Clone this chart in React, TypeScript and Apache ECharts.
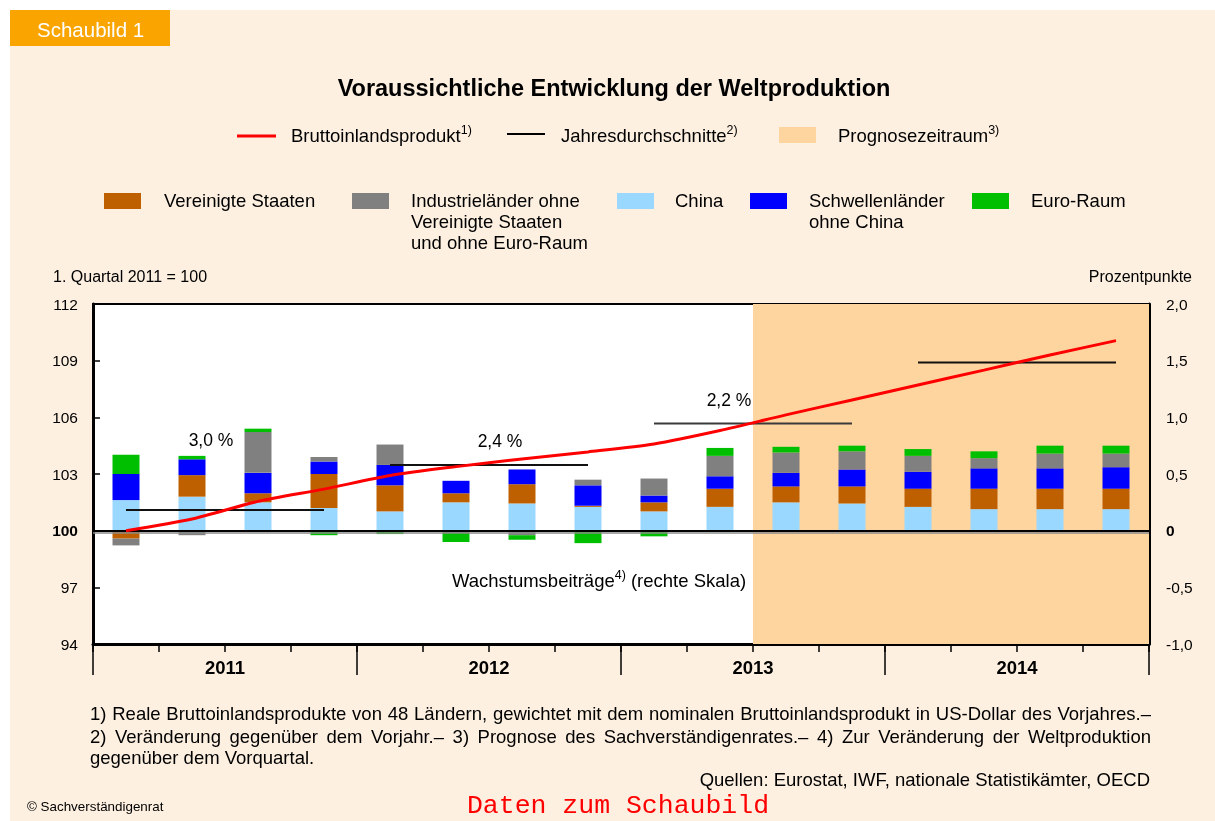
import React, { useEffect, useRef } from 'react';
import * as echarts from 'echarts';

const quarters = [
  '2011 Q1', '2011 Q2', '2011 Q3', '2011 Q4',
  '2012 Q1', '2012 Q2', '2012 Q3', '2012 Q4',
  '2013 Q1', '2013 Q2', '2013 Q3', '2013 Q4',
  '2014 Q1', '2014 Q2', '2014 Q3', '2014 Q4',
];
const years = ['2011', '2012', '2013', '2014'];
const forecastStart = 10; // first forecast quarter (2013 Q3)

// Bruttoinlandsprodukt, 1. Quartal 2011 = 100 (left axis)
const gdpIndex = [100.0, 100.62, 101.55, 102.2, 102.92, 103.39, 103.8, 104.17, 104.59, 105.3, 106.13, 106.92, 107.71, 108.5, 109.3, 110.06];
// Jahresdurchschnitte (left axis level) and their labels
const annualAvg = [101.1, 103.48, 105.67, 108.9];
const annualLabels = ['3,0 %', '2,4 %', '2,2 %', '3,0 %'];

// Wachstumsbeiträge in Prozentpunkten (right axis)
const china = [0.27, 0.30, 0.25, 0.20, 0.17, 0.25, 0.24, 0.21, 0.17, 0.21, 0.25, 0.24, 0.21, 0.19, 0.19, 0.19];
const usa = [-0.07, 0.19, 0.08, 0.30, 0.23, 0.08, 0.17, 0.01, 0.08, 0.16, 0.14, 0.15, 0.16, 0.18, 0.18, 0.18];
const emerging = [0.23, 0.14, 0.18, 0.11, 0.18, 0.11, 0.13, 0.18, 0.06, 0.11, 0.12, 0.15, 0.15, 0.18, 0.18, 0.19];
const industrial = [-0.06, -0.04, 0.36, 0.04, 0.18, -0.02, -0.04, 0.05, 0.15, 0.18, 0.18, 0.16, 0.14, 0.09, 0.13, 0.12];
const euro = [0.17, 0.03, 0.03, -0.04, -0.03, -0.08, -0.04, -0.11, -0.05, 0.07, 0.05, 0.05, 0.06, 0.06, 0.07, 0.07];

const leftTicks = { min: 94, max: 112, interval: 3 };
const rightTicks = { min: -1, max: 2, interval: 0.5 };

const footnotes = [
  '1) Reale Bruttoinlandsprodukte von 48 Ländern, gewichtet mit dem nominalen Bruttoinlandsprodukt in US-Dollar des Vorjahres.–',
  '2) Veränderung gegenüber dem Vorjahr.– 3) Prognose des Sachverständigenrates.– 4) Zur Veränderung der Weltproduktion',
  'gegenüber dem Vorquartal.',
];

const FONT = '"Liberation Sans", Arial, Helvetica, sans-serif';
const C_US = '#BF6000';
const C_IND = '#808080';
const C_CHINA = '#9AD8FF';
const C_EM = '#0000FF';
const C_EURO = '#00BF00';
const C_FORECAST = '#FED49F';
const C_BG = '#FDF0E1';
const FS = 18.5;

const supRich = {
  a: { fontSize: FS, fontFamily: FONT, color: '#000', lineHeight: 24 },
  s: { fontSize: 12.5, fontFamily: FONT, color: '#000', lineHeight: 12, verticalAlign: 'top' },
};

function txt(x: number, y: number, text: string, extra: any = {}) {
  return {
    type: 'text', x, y, silent: true,
    style: { text, fontFamily: FONT, fontSize: FS, fill: '#000', textVerticalAlign: 'middle', ...extra },
  };
}

function justified(text: string, x0: number, x1: number, y: number, fontSize: number) {
  const ctx = document.createElement('canvas').getContext('2d');
  const words = text.split(' ');
  if (!ctx) return [txt(x0, y, text, { fontSize })];
  ctx.font = `${fontSize}px "Liberation Sans", Arial, sans-serif`;
  const widths = words.map((w) => ctx.measureText(w).width);
  const total = widths.reduce((a, b) => a + b, 0);
  const gap = (x1 - x0 - total) / (words.length - 1);
  let x = x0;
  return words.map((w, i) => {
    const el = txt(x, y, w, { fontSize });
    x += widths[i] + gap;
    return el;
  });
}

export default function App() {
  const ref = useRef<HTMLDivElement>(null);
  useEffect(() => {
    const chart = echarts.init(ref.current!, null, { renderer: 'svg' });

    const barDefs = [
      { name: 'China', data: china, color: C_CHINA },
      { name: 'Vereinigte Staaten', data: usa, color: C_US },
      { name: 'Schwellenländer ohne China', data: emerging, color: C_EM },
      { name: 'Industrieländer ohne Vereinigte Staaten und ohne Euro-Raum', data: industrial, color: C_IND },
      { name: 'Euro-Raum', data: euro, color: C_EURO },
    ];

    const barSeries = barDefs.map((b, i) => ({
      name: b.name,
      type: 'bar',
      stack: 'beitraege',
      xAxisIndex: 0,
      yAxisIndex: 1,
      barWidth: 27,
      data: b.data,
      itemStyle: { color: b.color },
      z: 3,
      ...(i === barDefs.length - 1
        ? {
            markLine: {
              silent: true,
              symbol: 'none',
              label: { show: false },
              data: [
                { yAxis: -0.016, lineStyle: { color: '#8a8a8a', width: 1.5, type: 'solid' } },
                { yAxis: 0, lineStyle: { color: '#000', width: 2, type: 'solid' } },
              ],
            },
          }
        : {}),
    }));

    const avgSeries = annualAvg.map((v, y) => ({
      name: 'Jahresdurchschnitte',
      type: 'line',
      xAxisIndex: 0,
      yAxisIndex: 0,
      symbol: 'none',
      data: quarters.map((_, i) => (Math.floor(i / 4) === y ? v : null)),
      lineStyle: { color: y === 2 ? '#3a3a3a' : '#111', width: 2 },
      z: 8,
    }));

    const graphic: any[] = [
      { type: 'rect', shape: { x: 10, y: 10, width: 1205, height: 811 }, style: { fill: C_BG }, z: -100, silent: true },
      { type: 'rect', shape: { x: 10, y: 10, width: 160, height: 36 }, style: { fill: '#FAA400' }, z: -99, silent: true },
      txt(37, 29, 'Schaubild 1', { fill: '#fff', fontSize: 20.5 }),
      txt(614, 88, 'Voraussichtliche Entwicklung der Weltproduktion', { fontSize: 23.5, fontWeight: 'bold', textAlign: 'center' }),
      // legend row 1
      { type: 'line', shape: { x1: 237, y1: 136, x2: 276, y2: 136 }, style: { stroke: '#FF0000', lineWidth: 3 }, silent: true },
      txt(291, 135, '{a|Bruttoinlandsprodukt}{s|1)}', { rich: supRich }),
      { type: 'line', shape: { x1: 507, y1: 134, x2: 545, y2: 134 }, style: { stroke: '#000', lineWidth: 2 }, silent: true },
      txt(561, 135, '{a|Jahresdurchschnitte}{s|2)}', { rich: supRich }),
      { type: 'rect', shape: { x: 779, y: 127, width: 37, height: 16 }, style: { fill: C_FORECAST }, silent: true },
      txt(838, 135, '{a|Prognosezeitraum}{s|3)}', { rich: supRich }),
      // legend row 2
      { type: 'rect', shape: { x: 104, y: 193, width: 37, height: 16 }, style: { fill: C_US }, silent: true },
      txt(164, 190, 'Vereinigte Staaten', { textVerticalAlign: 'top', lineHeight: 21 }),
      { type: 'rect', shape: { x: 352, y: 193, width: 37, height: 16 }, style: { fill: C_IND }, silent: true },
      txt(411, 190, 'Industrieländer ohne\nVereinigte Staaten\nund ohne Euro-Raum', { textVerticalAlign: 'top', lineHeight: 21 }),
      { type: 'rect', shape: { x: 617, y: 193, width: 37, height: 16 }, style: { fill: C_CHINA }, silent: true },
      txt(675, 190, 'China', { textVerticalAlign: 'top', lineHeight: 21 }),
      { type: 'rect', shape: { x: 750, y: 193, width: 37, height: 16 }, style: { fill: C_EM }, silent: true },
      txt(809, 190, 'Schwellenländer\nohne China', { textVerticalAlign: 'top', lineHeight: 21 }),
      { type: 'rect', shape: { x: 972, y: 193, width: 37, height: 16 }, style: { fill: C_EURO }, silent: true },
      txt(1031, 190, 'Euro-Raum', { textVerticalAlign: 'top', lineHeight: 21 }),
      // axis captions
      txt(53, 276, '1. Quartal 2011 = 100', { fontSize: 16 }),
      txt(1192, 276, 'Prozentpunkte', { fontSize: 16, textAlign: 'right' }),
      // annotations
      txt(211, 440, annualLabels[0], { fontSize: 17.5, textAlign: 'center' }),
      txt(500, 441, annualLabels[1], { fontSize: 17.5, textAlign: 'center' }),
      txt(729, 400, annualLabels[2], { fontSize: 17.5, textAlign: 'center' }),
      txt(1015, 341, annualLabels[3], { fontSize: 17.5, textAlign: 'center' }),
      txt(599, 580, '{a|Wachstumsbeiträge}{s|4)}{a| (rechte Skala)}', {
        textAlign: 'center',
        rich: { a: { ...supRich.a, fontSize: 18.5 }, s: supRich.s },
      }),
      // footnotes
      ...justified(footnotes[0], 90, 1151, 713, FS),
      ...justified(footnotes[1], 90, 1151, 736, FS),
      txt(90, 757, footnotes[2], { fontSize: FS }),
      txt(1150, 779, 'Quellen: Eurostat, IWF, nationale Statistikämter, OECD', { fontSize: FS, textAlign: 'right' }),
      txt(27, 806, '© Sachverständigenrat', { fontSize: 13.4 }),
      txt(618, 806, 'Daten zum Schaubild', { fontSize: 26.5, fontFamily: '"Liberation Mono", "Courier New", monospace', fill: '#FF0000', textAlign: 'center' }),
    ];

    const option: any = {
      animation: false,
      textStyle: { fontFamily: FONT },
      graphic,
      grid: {
        left: 93, top: 304, right: 66, bottom: 177,
        show: true, backgroundColor: '#fff', borderColor: '#000', borderWidth: 2,
        containLabel: false,
      },
      xAxis: [
        {
          type: 'category', data: quarters, position: 'bottom', boundaryGap: true,
          axisLine: { show: true, onZero: false, lineStyle: { color: '#000', width: 3 } },
          axisTick: { show: true, length: 8, interval: 0, lineStyle: { color: '#000', width: 1.5 } },
          axisLabel: { show: false },
          splitLine: { show: false },
        },
        {
          type: 'category', data: years, position: 'bottom', boundaryGap: true,
          axisLine: { show: false, onZero: false },
          axisTick: { show: true, length: 31, interval: 0, lineStyle: { color: '#000', width: 1.5 } },
          axisLabel: { show: true, margin: 14, fontSize: 18.5, fontWeight: 'bold', color: '#000', fontFamily: FONT },
          splitLine: { show: false },
        },
        { type: 'value', min: 0, max: quarters.length, show: false, axisLine: { onZero: false } },
        {
          type: 'category', data: quarters, position: 'top',
          axisLine: { show: true, onZero: false, lineStyle: { color: '#000', width: 2 } },
          axisTick: { show: false }, axisLabel: { show: false }, splitLine: { show: false },
        },
      ],
      yAxis: [
        {
          type: 'value', position: 'left', ...leftTicks,
          axisLine: { show: true, onZero: false, lineStyle: { color: '#000', width: 3 } },
          axisTick: { show: true, inside: true, length: 7, lineStyle: { color: '#000', width: 1.5 } },
          splitLine: { show: false },
          axisLabel: {
            margin: 15, fontSize: 15.5, color: '#000', fontFamily: FONT,
            formatter: (v: number) => (v === 100 ? '{b|100}' : String(v)),
            rich: { b: { fontWeight: 'bold', fontSize: 15.5, fontFamily: FONT, color: '#000' } },
          },
        },
        {
          type: 'value', position: 'right', ...rightTicks,
          axisLine: { show: true, onZero: false, lineStyle: { color: '#000', width: 3 } },
          axisTick: { show: true, inside: true, length: 7, lineStyle: { color: '#000', width: 1.5 } },
          splitLine: { show: false },
          axisLabel: {
            margin: 17, fontSize: 15.5, color: '#000', fontFamily: FONT,
            formatter: (v: number) => (v === 0 ? '{b|0}' : v.toFixed(1).replace('.', ',')),
            rich: { b: { fontWeight: 'bold', fontSize: 15.5, fontFamily: FONT, color: '#000' } },
          },
        },
      ],
      series: [
        {
          name: 'Prognosezeitraum',
          type: 'line',
          xAxisIndex: 2,
          yAxisIndex: 0,
          data: [],
          z: 1,
          markArea: {
            silent: true,
            itemStyle: { color: C_FORECAST },
            data: [[{ xAxis: forecastStart }, { xAxis: quarters.length }]],
          },
        },
        ...barSeries,
        ...avgSeries,
        {
          name: 'Bruttoinlandsprodukt',
          type: 'line',
          xAxisIndex: 0,
          yAxisIndex: 0,
          data: gdpIndex,
          symbol: 'none',
          smooth: 0.25,
          lineStyle: { color: '#FF0000', width: 3 },
          z: 10,
        },
      ],
    };
    chart.setOption(option);
    return () => chart.dispose();
  }, []);
  return <div ref={ref} style={{ position: 'fixed', left: 0, top: 0, width: 1215, height: 821 }} />;
}
